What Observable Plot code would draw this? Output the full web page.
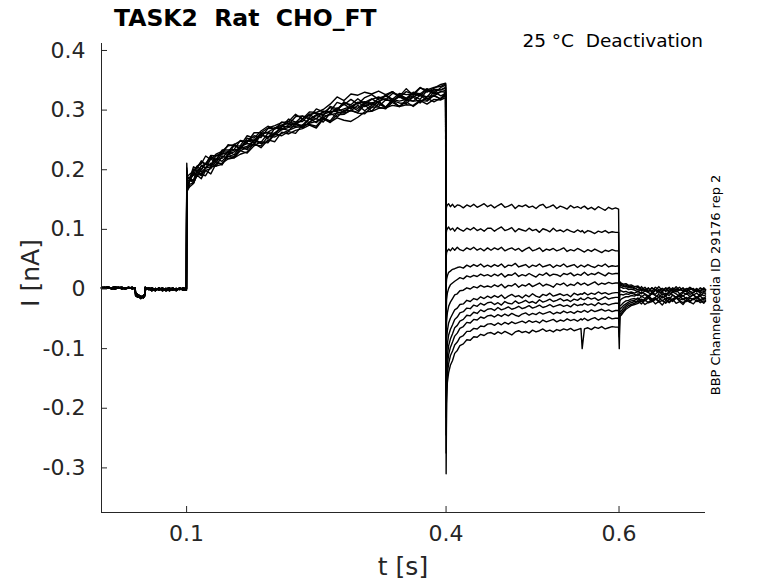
<!DOCTYPE html>
<html><head><meta charset="utf-8">
<script src="https://cdn.jsdelivr.net/npm/d3@7"></script>
<script src="https://cdn.jsdelivr.net/npm/@observablehq/plot@0.6"></script>
<style>
html,body{margin:0;padding:0;background:#fff;}
#wrap{position:relative;width:778px;height:583px;font-family:"DejaVu Sans",sans-serif;}
#wrap svg{position:absolute;left:0;top:0;}
</style></head><body><div id="wrap"></div>
<script>
const xTicks = [0.1, 0.4, 0.6];
const yTicks = [0.4, 0.3, 0.2, 0.1, 0, -0.1, -0.2, -0.3];
const xDomain = [0.0016, 0.7];
const yDomain = [-0.3748, 0.4117];

// holding segment (nA)
const preT = [0.0016,0.005,0.009,0.013,0.017,0.021,0.025,0.029,0.033,0.037,0.0405,0.041,0.044,0.047,0.05,0.0515,0.052,0.056,0.06,0.064,0.068,0.072,0.076,0.08,0.084,0.088,0.092,0.096,0.0998];
const preA = [0.002,0.003,0.001,0.002,0.004,0.001,0.002,0.000,0.002,0.001,0.001,-0.011,-0.014,-0.013,-0.015,-0.012,0.001,-0.001,0.002,-0.002,0.001,-0.003,0.000,0.002,-0.002,0.001,-0.001,0.002,0.000];
const preB = [0.003,0.001,0.003,0.000,0.002,0.003,0.000,0.002,0.001,0.003,0.000,-0.008,-0.012,-0.016,-0.011,-0.009,0.003,0.000,-0.003,0.001,-0.002,0.002,-0.003,-0.001,0.002,-0.003,0.001,-0.002,0.001];
const preC = [0.001,0.002,0.004,0.001,0.000,0.002,0.003,0.001,0.003,0.000,0.002,-0.006,-0.010,-0.012,-0.014,-0.010,-0.002,0.002,0.000,-0.003,0.002,-0.001,0.001,-0.003,0.000,-0.002,0.002,-0.001,-0.002];

// activation segment (nA)
const actT = [0.1002,0.1008,0.104,0.108,0.112,0.117,0.122,0.128,0.134,0.141,0.148,0.155,0.162,0.17,0.178,0.186,0.194,0.202,0.21,0.218,0.226,0.234,0.242,0.25,0.258,0.266,0.274,0.282,0.29,0.298,0.306,0.314,0.322,0.33,0.338,0.346,0.354,0.362,0.37,0.378,0.386,0.394,0.3995];
const act1 = [0.211,0.187,0.187,0.205,0.202,0.215,0.209,0.224,0.223,0.226,0.242,0.240,0.240,0.257,0.253,0.265,0.273,0.268,0.280,0.276,0.289,0.290,0.288,0.302,0.297,0.298,0.313,0.309,0.318,0.310,0.321,0.326,0.318,0.323,0.331,0.321,0.331,0.327,0.338,0.330,0.337,0.343,0.345];
const act2 = [0.185,0.169,0.183,0.182,0.197,0.190,0.203,0.211,0.206,0.223,0.219,0.221,0.236,0.239,0.249,0.244,0.247,0.262,0.269,0.266,0.277,0.270,0.280,0.286,0.280,0.295,0.288,0.300,0.299,0.308,0.299,0.308,0.314,0.304,0.316,0.312,0.311,0.322,0.312,0.323,0.324,0.319,0.330];
const act3 = [0.198,0.183,0.181,0.197,0.205,0.200,0.210,0.208,0.224,0.227,0.226,0.241,0.235,0.249,0.249,0.261,0.262,0.261,0.272,0.281,0.275,0.285,0.293,0.285,0.298,0.296,0.301,0.310,0.302,0.313,0.314,0.309,0.320,0.324,0.316,0.323,0.318,0.328,0.326,0.322,0.335,0.334,0.337];
const act4 = [0.175,0.164,0.176,0.178,0.191,0.192,0.190,0.205,0.206,0.209,0.223,0.220,0.232,0.228,0.240,0.247,0.245,0.260,0.257,0.264,0.261,0.275,0.276,0.273,0.287,0.279,0.292,0.293,0.300,0.295,0.294,0.305,0.305,0.302,0.313,0.306,0.314,0.306,0.315,0.320,0.314,0.320,0.324];
const act5 = [0.199,0.187,0.187,0.191,0.205,0.213,0.209,0.219,0.216,0.233,0.233,0.234,0.249,0.247,0.257,0.254,0.269,0.270,0.272,0.285,0.280,0.281,0.293,0.295,0.291,0.306,0.302,0.312,0.309,0.319,0.310,0.318,0.322,0.317,0.328,0.326,0.320,0.330,0.327,0.336,0.328,0.338,0.342];
const act6 = [0.187,0.172,0.184,0.192,0.190,0.200,0.211,0.207,0.217,0.219,0.231,0.225,0.239,0.244,0.242,0.258,0.255,0.260,0.273,0.272,0.278,0.273,0.285,0.291,0.287,0.294,0.304,0.296,0.306,0.303,0.313,0.312,0.306,0.317,0.316,0.322,0.316,0.322,0.328,0.319,0.324,0.331,0.330];
const act7 = [0.203,0.189,0.193,0.198,0.206,0.210,0.223,0.217,0.226,0.231,0.240,0.242,0.248,0.246,0.262,0.262,0.270,0.274,0.279,0.281,0.293,0.285,0.297,0.296,0.301,0.310,0.322,0.316,0.327,0.325,0.330,0.327,0.332,0.326,0.331,0.323,0.336,0.325,0.337,0.334,0.338,0.340,0.344];
const act8 = [0.179,0.167,0.183,0.178,0.192,0.194,0.199,0.202,0.214,0.208,0.226,0.222,0.232,0.237,0.242,0.240,0.256,0.255,0.261,0.266,0.271,0.272,0.278,0.281,0.287,0.282,0.296,0.295,0.299,0.296,0.309,0.298,0.311,0.304,0.316,0.306,0.317,0.315,0.316,0.315,0.325,0.318,0.326];
const act9 = [0.198,0.180,0.184,0.195,0.190,0.207,0.203,0.218,0.212,0.227,0.229,0.233,0.235,0.249,0.245,0.260,0.252,0.270,0.268,0.275,0.277,0.284,0.279,0.292,0.293,0.297,0.298,0.302,0.306,0.313,0.306,0.312,0.315,0.319,0.313,0.325,0.319,0.324,0.318,0.333,0.327,0.331,0.333];
const act10 = [0.173,0.166,0.172,0.177,0.191,0.185,0.199,0.193,0.210,0.211,0.218,0.220,0.226,0.230,0.244,0.237,0.250,0.247,0.263,0.260,0.266,0.269,0.275,0.270,0.285,0.280,0.287,0.283,0.281,0.288,0.297,0.298,0.303,0.304,0.308,0.306,0.309,0.308,0.316,0.310,0.318,0.317,0.321];
const act11 = [0.194,0.187,0.183,0.201,0.197,0.206,0.210,0.223,0.216,0.230,0.230,0.243,0.235,0.253,0.249,0.261,0.263,0.270,0.275,0.278,0.279,0.290,0.285,0.292,0.296,0.304,0.299,0.314,0.306,0.312,0.313,0.319,0.312,0.326,0.318,0.328,0.326,0.327,0.324,0.334,0.332,0.334,0.338];
const act12 = [0.183,0.169,0.185,0.182,0.200,0.196,0.203,0.205,0.219,0.214,0.226,0.230,0.238,0.234,0.250,0.246,0.261,0.258,0.267,0.271,0.273,0.275,0.286,0.279,0.290,0.292,0.295,0.298,0.306,0.299,0.312,0.304,0.315,0.305,0.318,0.315,0.318,0.315,0.325,0.316,0.331,0.324,0.328];

// deactivation segment (values in pA)
const deaT = [0.4001,0.4006,0.4015,0.403,0.405,0.4075,0.41,0.413,0.416,0.42,0.424,0.428,0.432,0.436,0.44,0.444,0.448,0.452,0.456,0.46,0.464,0.468,0.472,0.476,0.48,0.484,0.488,0.492,0.496,0.5,0.504,0.508,0.512,0.516,0.52,0.524,0.528,0.532,0.536,0.54,0.544,0.548,0.552,0.556,0.5574,0.56,0.564,0.568,0.572,0.576,0.58,0.584,0.588,0.592,0.596,0.5995];
const dea1 = [132,138,141,143,138,142,137,141,140,136,141,138,142,137,140,143,138,141,136,140,143,137,139,142,135,140,138,141,137,139,135,140,142,136,138,141,135,139,137,134,140,136,138,135,137,139,134,137,133,138,135,132,137,134,136,134];
const dea2 = [92,98,101,104,99,102,97,103,100,97,102,99,103,98,101,97,102,102,97,101,104,98,100,103,96,101,99,97,102,98,100,95,101,99,96,102,97,99,96,100,97,95,99,96,98,94,98,96,93,97,95,98,94,96,95,95];
const dea3 = [52,61,64,67,64,69,65,70,66,64,69,66,70,65,68,64,69,65,69,66,70,64,67,69,65,68,63,67,70,64,66,69,63,67,65,68,64,66,69,63,66,64,68,65,64,62,66,63,67,64,61,65,63,66,64,64];
const dea4 = [5,16,22,28,30,33,34,36,37,35,40,37,41,38,42,37,40,37,41,38,42,36,40,39,43,37,39,41,36,40,38,42,37,39,41,36,40,38,42,37,39,41,36,40,39,37,41,38,36,40,38,42,37,39,38,39];
const dea5 = [-45,-18,-7,1,7,10,13,16,19,17,22,20,23,21,25,22,24,21,25,22,26,20,24,23,27,21,24,22,26,23,20,25,23,27,22,25,24,21,26,24,27,22,25,23,25,28,23,26,24,28,25,22,27,25,26,26];
const dea6 = [-95,-55,-40,-29,-22,-16,-10,-8,-3,-2,2,0,4,2,6,3,5,3,7,4,8,2,6,5,9,3,7,5,9,4,7,10,5,8,6,3,9,7,10,5,8,6,11,7,8,10,6,9,12,7,10,8,11,9,10,10];
const dea7 = [-140,-85,-70,-57,-49,-42,-35,-32,-26,-25,-19,-21,-16,-18,-13,-16,-12,-15,-11,-14,-10,-16,-12,-9,-13,-11,-15,-10,-13,-8,-12,-14,-9,-11,-7,-12,-10,-8,-11,-9,-13,-7,-10,-8,-9,-6,-10,-7,-9,-5,-8,-6,-9,-7,-6,-6];
const dea8 = [-180,-112,-92,-77,-68,-60,-51,-47,-40,-38,-32,-33,-27,-29,-24,-27,-23,-22,-26,-23,-27,-21,-24,-25,-20,-24,-22,-19,-23,-21,-24,-18,-22,-20,-17,-21,-19,-16,-20,-18,-21,-17,-19,-15,-17,-18,-14,-17,-15,-19,-16,-13,-17,-15,-14,-14];
const dea9 = [-215,-132,-112,-95,-84,-75,-65,-61,-54,-51,-44,-45,-39,-41,-35,-38,-34,-33,-36,-31,-35,-33,-30,-34,-32,-29,-33,-31,-28,-32,-30,-27,-31,-29,-26,-30,-28,-26,-29,-27,-30,-25,-28,-26,-27,-24,-27,-25,-28,-23,-26,-24,-27,-25,-24,-24];
const dea10 = [-245,-152,-127,-110,-98,-89,-79,-74,-66,-63,-56,-57,-51,-52,-47,-49,-45,-44,-47,-43,-46,-42,-45,-41,-44,-46,-42,-40,-44,-41,-43,-39,-42,-40,-38,-42,-39,-41,-37,-40,-38,-41,-37,-39,-38,-36,-39,-35,-38,-36,-34,-37,-35,-38,-36,-36];
const dea11 = [-275,-172,-142,-125,-112,-104,-94,-89,-81,-78,-71,-71,-66,-67,-62,-63,-59,-58,-61,-57,-60,-56,-59,-55,-58,-56,-54,-57,-53,-56,-54,-57,-52,-55,-53,-51,-55,-52,-54,-50,-53,-51,-54,-50,-52,-49,-53,-50,-48,-52,-49,-51,-47,-50,-49,-49];
const dea12 = [-310,-192,-157,-140,-128,-120,-108,-103,-95,-92,-85,-86,-80,-81,-76,-78,-74,-73,-76,-72,-75,-71,-74,-77,-72,-70,-73,-71,-74,-69,-72,-70,-67,-71,-69,-72,-68,-70,-67,-69,-66,-70,-68,-66,-100,-67,-65,-68,-64,-66,-63,-67,-65,-63,-64,-64];

// tail segment (values in pA)
const tailT = [0.6003,0.601,0.6025,0.605,0.608,0.611,0.614,0.618,0.622,0.626,0.63,0.634,0.638,0.642,0.646,0.65,0.654,0.658,0.662,0.666,0.67,0.674,0.678,0.682,0.686,0.69,0.694,0.698,0.7];
const tail1 = [8,12,10,8,9,6,7,4,5,-1,3,-4,2,-2,4,-3,1,-5,2,-1,3,-4,0,2,-3,1,-5,2,-1];
const tail2 = [5,10,8,6,7,4,5,2,-2,4,-3,1,-4,3,-1,-5,2,0,-3,4,-2,1,-5,3,-1,-4,2,-2,-1];
const tail3 = [0,8,6,4,5,2,3,0,3,-3,0,-5,2,-2,-4,1,-3,3,-5,0,-2,2,-4,-1,1,-5,-2,0,-2];
const tail4 = [-8,4,3,1,2,-1,0,-2,-5,0,-3,2,-6,-1,-3,1,-4,-2,0,-5,-1,-3,1,-4,-6,-1,-3,0,-2];
const tail5 = [-15,-2,-3,-5,-4,-6,-5,-7,-4,-8,-3,-6,-9,-2,-7,-5,-10,-4,-6,-1,-8,-5,-3,-9,-6,-2,-7,-4,-5];
const tail6 = [-25,-10,-9,-10,-8,-9,-7,-9,-11,-5,-8,-12,-6,-9,-3,-10,-7,-11,-5,-8,-13,-6,-9,-4,-10,-7,-12,-6,-8];
const tail7 = [-35,-20,-17,-15,-13,-13,-11,-12,-8,-13,-9,-15,-7,-11,-14,-8,-12,-6,-10,-14,-9,-12,-7,-13,-10,-15,-8,-11,-10];
const tail8 = [-45,-28,-27,-23,-20,-19,-17,-16,-19,-12,-16,-11,-17,-14,-9,-15,-12,-18,-10,-14,-16,-11,-17,-13,-9,-15,-12,-17,-13];
const tail9 = [-55,-33,-32,-28,-25,-22,-20,-19,-15,-21,-17,-13,-19,-16,-20,-12,-17,-14,-19,-15,-11,-18,-14,-20,-16,-13,-18,-15,-16];
const tail10 = [-65,-38,-37,-32,-28,-25,-23,-21,-22,-17,-20,-15,-21,-18,-14,-20,-16,-22,-17,-13,-19,-16,-21,-15,-18,-14,-20,-17,-17];
const tail11 = [-80,-42,-41,-36,-31,-28,-26,-24,-20,-25,-18,-23,-21,-16,-22,-19,-24,-17,-21,-15,-20,-23,-18,-22,-16,-21,-19,-24,-19];
const tail12 = [-100,-46,-44,-39,-34,-31,-28,-26,-24,-20,-26,-22,-18,-25,-21,-27,-19,-23,-17,-24,-21,-26,-19,-22,-25,-18,-23,-20,-21];

const pre = [preA, preB, preC];
const act = [act1,act2,act3,act4,act5,act6,act7,act8,act9,act10,act11,act12];
const dea = [dea1,dea2,dea3,dea4,dea5,dea6,dea7,dea8,dea9,dea10,dea11,dea12];
const tail = [tail1,tail2,tail3,tail4,tail5,tail6,tail7,tail8,tail9,tail10,tail11,tail12];

const rows = [];
for (let k = 0; k < act.length; k++) {
  preT.forEach((t, j) => rows.push({k, t, v: pre[k % 3][j]}));
  actT.forEach((t, j) => rows.push({k, t, v: act[k][j]}));
  deaT.forEach((t, j) => rows.push({k, t, v: dea[k][j] / 1000}));
  tailT.forEach((t, j) => rows.push({k, t, v: tail[k][j] / 1000}));
}

const axisColor = "#262626";
const chart = Plot.plot({
  width: 778, height: 583,
  marginLeft: 101, marginRight: 73, marginTop: 43, marginBottom: 71,
  x: {domain: xDomain},
  y: {domain: yDomain},
  style: {fontFamily: "DejaVu Sans", background: "transparent", color: axisColor, overflow: "visible"},
  marks: [
    Plot.line(rows, {x: "t", y: "v", z: "k", stroke: "#000", strokeWidth: 1.4}),
    Plot.ruleX([xDomain[0]], {stroke: axisColor, strokeWidth: 1}),
    Plot.ruleY([yDomain[0]], {stroke: axisColor, strokeWidth: 1}),
    Plot.axisX({ticks: xTicks, tickSize: -6, tickPadding: 19, tickFormat: d => String(d), fontSize: 22, label: null, color: axisColor}),
    Plot.axisY({ticks: yTicks, tickSize: -6, tickPadding: 22, tickFormat: d => String(d), fontSize: 22, label: null, color: axisColor})
  ]
});
const wrap = document.getElementById("wrap");
wrap.appendChild(chart);

const ov = d3.select(wrap).append("svg").attr("width", 778).attr("height", 583)
  .style("font-family", "'DejaVu Sans', sans-serif");
ov.append("text").attr("x", 114).attr("y", 26).attr("font-size", 23.5).attr("font-weight", "bold")
  .attr("fill", "#000").style("white-space", "pre").text("TASK2  Rat  CHO_FT");
ov.append("text").attr("x", 703).attr("y", 47).attr("text-anchor", "end").attr("font-size", 18.5)
  .attr("fill", "#000").style("white-space", "pre").text("25 °C  Deactivation");
ov.append("text").attr("transform", "translate(39,273) rotate(-90)").attr("text-anchor", "middle")
  .attr("font-size", 25).attr("fill", axisColor).text("I [nA]");
ov.append("text").attr("x", 403).attr("y", 575).attr("text-anchor", "middle")
  .attr("font-size", 25).attr("fill", axisColor).text("t [s]");
ov.append("text").attr("transform", "translate(720,285) rotate(-90)").attr("text-anchor", "middle")
  .attr("font-size", 13).attr("fill", "#000").text("BBP Channelpedia ID 29176 rep 2");
</script></body></html>
